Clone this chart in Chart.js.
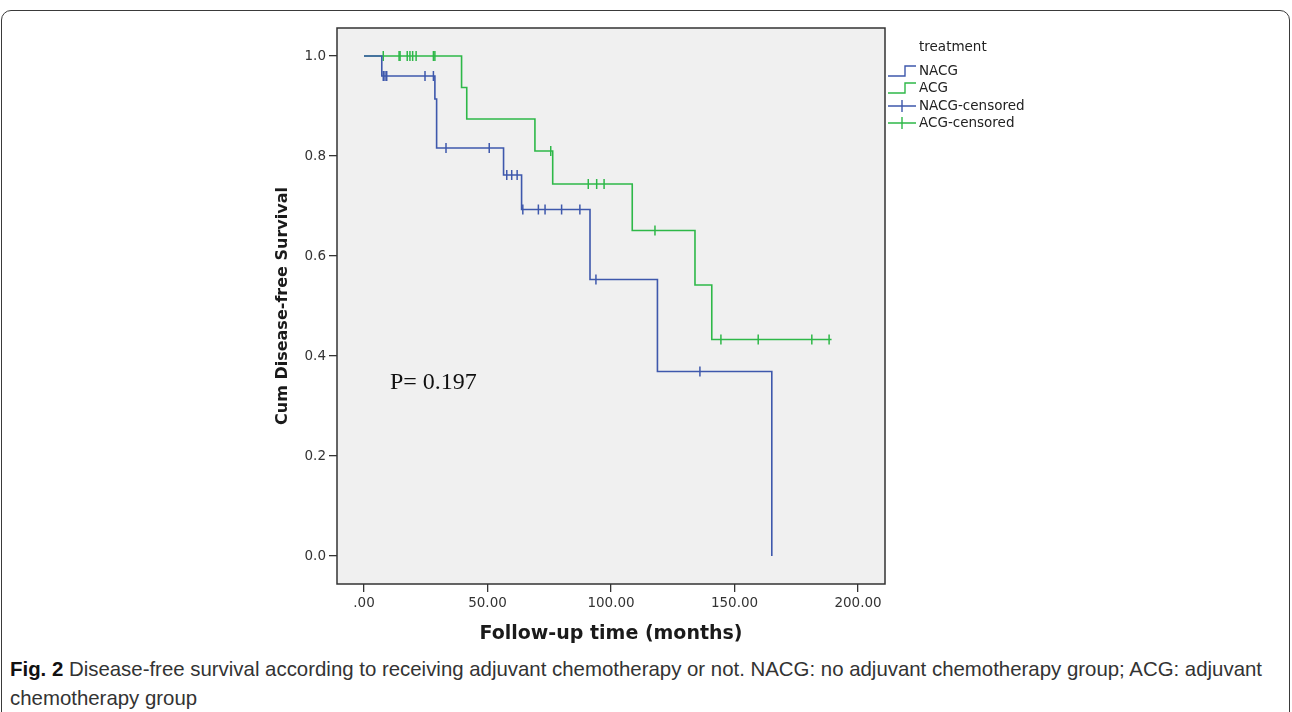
<!DOCTYPE html>
<html><head><meta charset="utf-8">
<script src="https://cdn.jsdelivr.net/npm/chart.js@4.4.1/dist/chart.umd.min.js"></script>
<style>
html,body{margin:0;padding:0;background:#fff;width:1292px;height:712px;overflow:hidden;position:relative;}
#frame{position:absolute;left:1px;top:10px;width:1289px;height:730px;border:1.5px solid #3a3a3a;border-radius:10px;box-sizing:border-box;}
#wrap{position:absolute;left:0;top:0;width:1292px;height:650px;}
#cap{position:absolute;left:10px;top:654px;font-family:'Liberation Sans Narrow','Arial Narrow','Liberation Sans',sans-serif;font-size:21px;color:#333;line-height:29px;white-space:nowrap;}
#cap span{display:inline-block;transform-origin:0 50%;}
#cap b{color:#111;}
</style></head><body>
<div id="frame"></div>
<div id="wrap"><canvas id="c" width="1292" height="650"></canvas></div>
<div id="cap"><div><span id="l1"><b>Fig. 2</b> Disease-free survival according to receiving adjuvant chemotherapy or not. NACG: no adjuvant chemotherapy group; ACG: adjuvant</span></div><div><span id="l2">chemotherapy group</span></div></div>
<script>
// ---- data ----
const nacgTimes = [0, 7.2, 28.7, 29.4, 56.5, 63.8, 91.5, 118.8, 165.1];
const nacgSurv  = [1.0, 0.960, 0.914, 0.816, 0.762, 0.693, 0.553, 0.369, 0.0];
const acgTimes  = [0, 39.5, 41.6, 69.2, 76.4, 108.6, 134.0, 140.8, 189.3];
const acgSurv   = [1.0, 0.937, 0.874, 0.810, 0.744, 0.651, 0.542, 0.433, 0.433];
const nacgCensTimes = [7.8, 8.5, 9.2, 24.7, 28.1, 33.2, 50.7, 57.8, 59.8, 62.0, 64.3, 70.6, 73.3, 80.0, 87.4, 93.9, 136.0];
const nacgCensSurv  = [0.960, 0.960, 0.960, 0.960, 0.960, 0.816, 0.816, 0.762, 0.762, 0.762, 0.693, 0.693, 0.693, 0.693, 0.693, 0.553, 0.369];
const acgCensTimes  = [7.8, 14.2, 14.6, 17.5, 18.6, 19.7, 21.1, 28.1, 28.7, 75.6, 90.8, 94.2, 97.2, 117.8, 144.5, 159.6, 181.3, 188.3];
const acgCensSurv   = [1.0, 1.0, 1.0, 1.0, 1.0, 1.0, 1.0, 1.0, 1.0, 0.810, 0.744, 0.744, 0.744, 0.651, 0.433, 0.433, 0.433, 0.433];
const xTicks = [0, 50, 100, 150, 200];
const yTicks = [0, 0.2, 0.4, 0.6, 0.8, 1.0];
const seriesNames = ['NACG', 'ACG', 'NACG-censored', 'ACG-censored'];
const legendTitle = 'treatment';
const pValueText = 'P= 0.197';
const xTitle = 'Follow-up time (months)';
const yTitle = 'Cum Disease-free Survival';

// ---- styles ----
const BLUE = 'rgb(62,88,172)';
const GREEN = 'rgb(46,184,72)';
const AXIS = '#333';
const pAnchor = {x: 10.5, y: 0.346};
const pts = (xs, ys) => xs.map((x, i) => ({x, y: ys[i]}));

const plotBox = {
  id: 'plotBox',
  beforeDraw(chart) {
    const {ctx, chartArea: a} = chart;
    ctx.save();
    ctx.fillStyle = '#f0f0f0';
    ctx.fillRect(a.left, a.top, a.right - a.left, a.bottom - a.top);
    ctx.restore();
  },
  beforeDatasetsDraw(chart) {
    const {ctx, chartArea: a} = chart;
    ctx.save();
    ctx.strokeStyle = AXIS; ctx.lineWidth = 1.5;
    ctx.strokeRect(a.left, a.top, a.right - a.left, a.bottom - a.top);
    ctx.restore();
  },
  afterDraw(chart) {
    const {ctx, chartArea: a, scales} = chart;
    ctx.save();
    // p-value annotation
    ctx.fillStyle = '#111';
    ctx.font = '24px "Liberation Serif", "DejaVu Serif", serif';
    ctx.textAlign = 'left'; ctx.textBaseline = 'middle';
    ctx.fillText(pValueText, scales.x.getPixelForValue(pAnchor.x), scales.y.getPixelForValue(pAnchor.y));
    // legend
    const x0 = a.right + 3, tx = a.right + 34;
    ctx.font = '13.5px "DejaVu Sans", sans-serif';
    ctx.fillStyle = '#222';
    ctx.fillText(legendTitle, tx, 47);
    const rows = [71, 88, 106, 123];
    const cols = [BLUE, GREEN, BLUE, GREEN];
    rows.forEach((ry, i) => {
      ctx.strokeStyle = cols[i]; ctx.lineWidth = 1.4;
      ctx.beginPath();
      if (i < 2) {
        ctx.moveTo(x0, ry + 5); ctx.lineTo(x0 + 17, ry + 5);
        ctx.lineTo(x0 + 17, ry - 5); ctx.lineTo(x0 + 28, ry - 5);
      } else {
        ctx.moveTo(x0, ry); ctx.lineTo(x0 + 28, ry);
        ctx.moveTo(x0 + 14, ry - 6); ctx.lineTo(x0 + 14, ry + 6);
      }
      ctx.stroke();
      ctx.fillStyle = '#222';
      ctx.fillText(seriesNames[i], tx, ry);
    });
    ctx.restore();
  }
};

new Chart(document.getElementById('c'), {
  type: 'line',
  data: {
    datasets: [
      {label: seriesNames[0], data: pts(nacgTimes, nacgSurv), borderColor: BLUE, borderWidth: 1.6, stepped: 'before', pointRadius: 0, fill: false},
      {label: seriesNames[1], data: pts(acgTimes, acgSurv), borderColor: GREEN, borderWidth: 1.6, stepped: 'before', pointRadius: 0, fill: false},
      {label: seriesNames[2], data: pts(nacgCensTimes, nacgCensSurv), showLine: false, pointStyle: 'line', rotation: 90, pointRadius: 5, borderColor: BLUE, borderWidth: 1.5},
      {label: seriesNames[3], data: pts(acgCensTimes, acgCensSurv), showLine: false, pointStyle: 'line', rotation: 90, pointRadius: 5, borderColor: GREEN, borderWidth: 1.5}
    ]
  },
  options: {
    responsive: false, animation: false, events: [],
    layout: {padding: {left: 265, right: 407, top: 28, bottom: 0}},
    plugins: {legend: {display: false}, tooltip: {enabled: false}},
    scales: {
      x: {
        type: 'linear', min: -10.93, max: 210.93,
        afterBuildTicks: s => { s.ticks = xTicks.map(v => ({value: v})); },
        afterFit: s => { s.height = 66; },
        grid: {drawOnChartArea: false, drawTicks: true, tickLength: 8, color: AXIS, lineWidth: 1.3},
        border: {display: false},
        ticks: {padding: 3, color: AXIS, maxRotation: 0, autoSkip: false, font: {family: 'DejaVu Sans', size: 13.5},
                callback: v => v === 0 ? '.00' : Number(v).toFixed(2)},
        title: {display: true, text: xTitle, color: '#1a1a1a', font: {family: 'DejaVu Sans', size: 19, weight: 'bold'}, padding: {top: 0, bottom: 4.6}}
      },
      y: {
        type: 'linear', min: -0.056, max: 1.056,
        afterBuildTicks: s => { s.ticks = yTicks.map(v => ({value: v})); },
        afterFit: s => { s.width = 72; },
        grid: {drawOnChartArea: false, drawTicks: true, tickLength: 8, color: AXIS, lineWidth: 1.3},
        border: {display: false},
        ticks: {padding: 3, color: AXIS, autoSkip: false, font: {family: 'DejaVu Sans', size: 13.5},
                callback: v => Number(v).toFixed(1)},
        title: {display: true, text: yTitle, color: '#1a1a1a', font: {family: 'DejaVu Sans', size: 16, weight: 'bold'}, padding: {top: 8, bottom: 0}}
      }
    }
  },
  plugins: [plotBox]
});

// fit caption width to the reference line length
function fitCaption() {
  const l1 = document.getElementById('l1'), l2 = document.getElementById('l2');
  const w = l1.getBoundingClientRect().width;
  const k = 1252 / w;
  l1.style.transform = 'scaleX(' + k + ')';
  l2.style.transform = 'scaleX(' + k + ')';
}
if (document.fonts && document.fonts.ready) { document.fonts.ready.then(fitCaption); } else { fitCaption(); }
</script>
</body></html>
